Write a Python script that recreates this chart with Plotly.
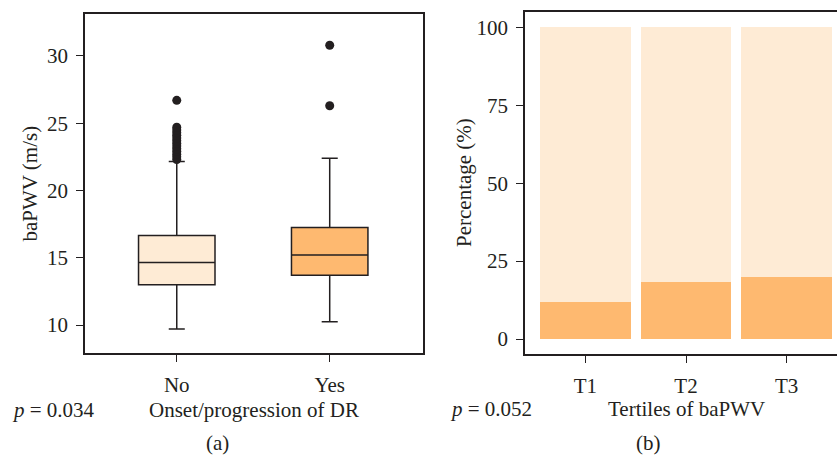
import plotly.graph_objects as go

# ---------------- data ----------------
groups = ["No", "Yes"]
q1 = [13.0, 13.7]
median = [14.65, 15.2]
q3 = [16.65, 17.25]
lower_whisker = [9.7, 10.25]
upper_whisker = [22.15, 22.4]
outliers_no = [22.3, 22.5, 22.7, 22.9, 23.1, 23.3, 23.5, 23.7, 23.9, 24.1, 24.3, 24.5, 24.7, 26.7]
outliers_yes = [26.3, 30.8]

tertiles = ["T1", "T2", "T3"]
pct_yes = [11.9, 18.3, 19.9]
pct_no = [100 - v for v in pct_yes]

box_yticks = [10, 15, 20, 25, 30]
bar_yticks = [0, 25, 50, 75, 100]

# ---------------- style ----------------
W, H = 837, 457
LIGHT = "#FEEBD5"
DARK = "#FEB970"
INK = "#231F20"
FONT = "Liberation Serif"
FS = 21


def px(x):
    return x / W


def py(y):
    return 1 - y / H


fig = go.Figure()

box_fills = [LIGHT, DARK]
for i, g in enumerate(groups):
    fig.add_trace(go.Box(
        x=[g], q1=[q1[i]], median=[median[i]], q3=[q3[i]],
        lowerfence=[lower_whisker[i]], upperfence=[upper_whisker[i]],
        fillcolor=box_fills[i], line=dict(color=INK, width=1.5),
        width=0.5, whiskerwidth=0.21, boxpoints=False,
        xaxis="x", yaxis="y", showlegend=False, hoverinfo="skip"))

fig.add_trace(go.Scatter(
    x=["No"] * len(outliers_no) + ["Yes"] * len(outliers_yes),
    y=outliers_no + outliers_yes, mode="markers",
    marker=dict(color=INK, size=9), xaxis="x", yaxis="y", showlegend=False))

fig.add_trace(go.Bar(x=tertiles, y=pct_yes, marker=dict(color=DARK, line=dict(width=0)),
                     width=0.9, xaxis="x2", yaxis="y2", showlegend=False))
fig.add_trace(go.Bar(x=tertiles, y=pct_no, marker=dict(color=LIGHT, line=dict(width=0)),
                     width=0.9, xaxis="x2", yaxis="y2", showlegend=False))

axis_common = dict(
    showgrid=False, zeroline=False, showline=True, linecolor=INK, linewidth=1.5,
    ticks="outside", ticklen=7, tickwidth=1.3, tickcolor=INK,
    tickfont=dict(family=FONT, size=FS, color=INK),
)

fig.update_layout(
    width=W, height=H, autosize=False,
    margin=dict(l=0, r=0, t=0, b=0),
    paper_bgcolor="white", plot_bgcolor="white",
    barmode="stack",
    xaxis=dict(axis_common, domain=[px(85), px(423)], anchor="y", type="category",
               range=[-0.6, 1.61], mirror=True, ticklabelstandoff=5),
    yaxis=dict(axis_common, domain=[py(353), py(14)], anchor="x",
               range=[7.92, 33.12], tickvals=box_yticks, mirror=True, ticklabelstandoff=4),
    xaxis2=dict(axis_common, domain=[px(525), 1.0], anchor="y2", type="category",
                range=[-0.6, 2.5], mirror=True, ticklabelstandoff=5),
    yaxis2=dict(axis_common, domain=[py(354), py(12)], anchor="x2",
                range=[-4.8, 104.9], tickvals=bar_yticks, mirror=False, ticklabelstandoff=4),
)

txt = dict(family=FONT, size=FS, color=INK)
ann = [
    dict(x=px(30), y=py(183.5), text="baPWV (m/s)", textangle=-90),
    dict(x=px(464), y=py(183), text="Percentage (%)", textangle=-90),
    dict(x=px(253.5), y=py(410), text="Onset/progression of DR"),
    dict(x=px(53), y=py(410), text="<i>p</i> = 0.034"),
    dict(x=px(686), y=py(409), text="Tertiles of baPWV"),
    dict(x=px(490.5), y=py(409), text="<i>p</i> = 0.052"),
]
for a in ann:
    fig.add_annotation(xref="paper", yref="paper", xanchor="center", yanchor="middle",
                       showarrow=False, font=txt, **a)

for label, cx in [("(a)", 218), ("(b)", 648)]:
    fig.add_annotation(xref="paper", yref="paper", x=px(cx), y=0.0,
                       xanchor="center", yanchor="bottom", showarrow=False,
                       text=label, font=txt)

fig.write_html(
    "out.html",
    config={"displayModeBar": False},
    post_script="document.body.style.margin='0';document.body.style.overflow='hidden';",
)
